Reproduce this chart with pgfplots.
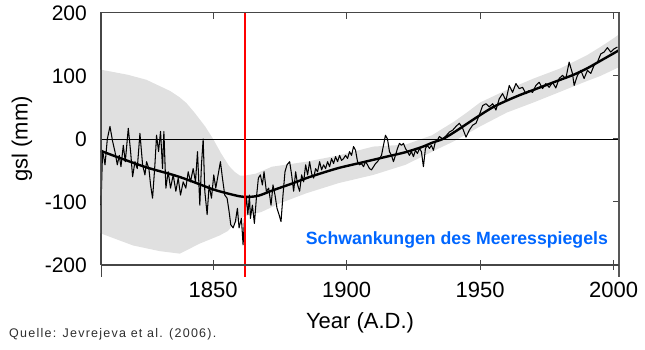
\documentclass[border=0pt]{standalone}
\usepackage{fontspec}
\setmainfont{Liberation Sans}
\usepackage{pgfplots}
\pgfplotsset{compat=1.18}
\usetikzlibrary{calc}
\definecolor{band}{RGB}{224,224,224}
\definecolor{axgray}{RGB}{70,70,70}
\definecolor{txtblue}{RGB}{0,102,255}
\definecolor{qgray}{RGB}{45,45,45}
\begin{document}
\begin{tikzpicture}
\begin{axis}[name=ax, scale only axis, width=518pt, height=252pt,
  xmin=1808, xmax=2002, ymin=-200, ymax=200, clip=false,
  axis line style={axgray, line width=1pt},
  xtick={1850,1900,1950,2000}, xtick pos=bottom,
  ytick={-200,-100,0,100,200}, ytick pos=left,
  tick align=center, major tick length=10pt,
  tick style={axgray, line width=1pt},
  major y tick style={draw=none},
  /pgf/number format/assume math mode=true,
  /pgf/number format/1000 sep={},
  xticklabel style={font=\fontsize{22}{24}\selectfont, anchor=north, inner sep=0pt, yshift=-12pt},
  yticklabel style={font=\fontsize{21}{24}\selectfont, anchor=east, inner sep=0pt, xshift=-9pt},
  xlabel={Year (A.D.)}, ylabel={gsl (mm)},
  every axis x label/.style={at={(rel axis cs:0.5,0)}, yshift=-58pt, anchor=center, font=\fontsize{22}{24}\selectfont},
  every axis y label/.style={at={(rel axis cs:0,0.5)}, xshift=-79pt, anchor=center, rotate=90, font=\fontsize{22}{24}\selectfont},
]
% uncertainty band
\addplot[fill=band, draw=none] coordinates {
(1808,110)(1818,102)(1825,94)(1830,84)(1834,76)(1837.5,66)(1840,57)(1843,42)(1847,20)(1850,0)(1853,-23)(1856,-43)(1858,-52)(1860,-58)(1862,-58)(1866,-55)(1872,-44)(1885,-36)(1897,-26)(1910,-12)(1922,-9)(1932,6)(1935,14)(1940,27)(1945,42)(1950,58)(1955,68)(1960,78)(1970,96)(1980,112)(1990,133)(1995,146)(2000,160)(2002,166)
(2002,114)(2000,110)(1995,100)(1990,92)(1980,75)(1970,58)(1960,42)(1950,20)(1945,8)(1940,-4)(1935,-14)(1922,-41)(1910,-57)(1897,-70)(1885,-86)(1875,-102)(1868,-116)(1862,-122)(1858,-134)(1855.5,-146)(1852.5,-153)(1845,-166)(1837.5,-182)(1830,-178)(1820,-169)(1808,-150)
} -- cycle;
% zero line
\addplot[black, line width=0.8pt] coordinates {(1808,0)(2002,0)};
% annual series
\addplot[black, line width=1.05pt, line join=round] coordinates {
(1808.0,-105)(1808.6,-18)(1809.5,-41)(1810.37,0)(1811.36,20)(1812.36,-4)(1813.23,-20)(1814.11,-41)(1814.85,-26)(1815.48,-44)
(1816.35,-10)(1817.1,-36)(1818.22,17)(1819.09,-20)(1819.84,-60)(1820.71,-36)(1821.58,-47)(1822.58,9)(1823.58,-41)(1824.45,-57)
(1825.07,-36)(1825.94,-47)(1826.57,-73)(1827.31,-94)(1828.19,-41)(1828.81,6)(1829.56,-20)(1830.3,12)(1831.05,-47)(1831.55,12)
(1832.3,-78)(1833.17,-52)(1834.04,-78)(1835.04,-57)(1836.04,-83)(1836.91,-62)(1837.78,-89)(1838.78,-68)(1839.77,-78)(1840.65,-52)
(1841.52,-68)(1842.52,-47)(1843.39,-68)(1844.14,-20)(1845.01,-105)(1845.63,-41)(1846.26,0)(1846.88,-83)(1847.75,-120)(1848.5,-73)
(1849.37,-94)(1850.24,-57)(1850.99,-78)(1851.86,-57)(1852.73,-36)(1853.48,-62)(1854.35,-89)(1855.23,-94)(1855.97,-115)(1856.6,-136)
(1857.47,-141)(1858.34,-131)(1859.09,-110)(1859.71,-141)(1860.58,-126)(1861.21,-168)(1861.83,-120)(1862.45,-91)(1863.0,-120)(1863.6,-89)
(1863.95,-126)(1864.7,-105)(1865.45,-134)(1866.19,-94)(1866.94,-62)(1867.69,-57)(1868.44,-73)(1869.06,-52)(1869.93,-83)(1870.8,-78)
(1871.68,-105)(1872.42,-73)(1873.17,-89)(1873.92,-110)(1874.67,-120)(1875.42,-131)(1876.16,-89)(1876.91,-52)(1877.66,-41)(1878.65,-36)
(1879.4,-57)(1880.15,-83)(1880.9,-52)(1881.65,-73)(1882.39,-83)(1883.14,-57)(1883.89,-68)(1884.64,-41)(1885.38,-57)(1886.13,-36)
(1886.88,-55)(1887.63,-62)(1888.37,-47)(1889.12,-52)(1889.87,-36)(1890.62,-49)(1891.36,-41)(1892.11,-47)(1892.86,-36)(1893.61,-44)
(1894.35,-31)(1895.1,-39)(1895.85,-28)(1896.6,-36)(1897.35,-26)(1898.09,-34)(1898.84,-31)(1899.59,-26)(1900.34,-31)(1901.08,-20)
(1901.83,-26)(1902.58,-12)(1903.33,-18)(1904.08,-36)(1904.82,-41)(1905.57,-39)(1906.32,-44)(1907.07,-36)(1907.81,-41)(1908.56,-47)
(1909.31,-49)(1910.06,-44)(1910.81,-39)(1911.55,-36)(1912.3,-31)(1913.05,-26)(1913.8,-10)(1914.54,6)(1915.29,0)(1916.04,-20)
(1916.79,-26)(1917.53,-36)(1918.28,-26)(1919.03,-15)(1919.78,-7)(1920.52,-10)(1921.27,-7)(1922.02,-15)(1922.77,-20)(1923.51,-26)
(1924.26,-20)(1925.01,-28)(1925.76,-18)(1926.51,-23)(1927.25,-15)(1928.0,-20)(1928.75,-44)(1929.5,-15)(1930.24,-10)(1931.0,-15)
(1931.74,-10)(1932.49,-18)(1933.23,-4)(1933.98,-2)(1934.73,4)(1935.98,0)(1937.22,5)(1938.47,11)(1939.71,14)(1940.96,20)
(1942.21,25)(1943.45,17)(1944.7,3)(1945.94,14)(1947.19,22)(1948.44,25)(1949.68,38)(1950.93,53)(1952.17,56)(1953.42,51)
(1954.67,56)(1955.91,46)(1957.16,64)(1958.4,72)(1959.65,61)(1960.9,85)(1962.14,74)(1963.39,88)(1964.64,80)(1965.88,82)
(1967.13,72)(1968.37,77)(1969.62,74)(1970.87,85)(1972.11,90)(1973.36,80)(1974.6,88)(1975.85,82)(1977.1,90)(1978.34,81)
(1979.59,96)(1980.83,101)(1982.08,96)(1983.33,122)(1984.57,104)(1985.2,85)(1986.44,101)(1987.69,109)(1988.93,96)(1990.18,109)
(1991.43,104)(1992.67,117)(1993.92,122)(1995.16,135)(1996.41,138)(1997.66,145)(1998.9,138)(2000.15,143)(2001.4,146)
};
% smoothed trend
\addplot[black, line width=2.4pt, smooth] coordinates {
(1808,-19)(1815,-30)(1825,-45)(1835,-57)(1840,-64)(1845,-72)(1850,-80)(1855,-86)(1860,-91)(1863,-92)(1867,-90)(1872,-82)
(1880,-70)(1885,-62)(1890,-55)(1897,-46)(1905,-38)(1910,-33)(1915,-28)(1922,-21)(1928,-13)(1932,-6)(1936,0)(1940,10)
(1945,24)(1950,38)(1955,51)(1960,61)(1965,70)(1970,78)(1975,86)(1980,94)(1985,102)(1990,112)(1995,124)(2000,136)(2002,141)
};
% red marker line
\addplot[red, line width=1.6pt] coordinates {(1862,-219)(1862,200)};
\node[text=txtblue, font=\bfseries\fontsize{17.7}{20}\selectfont] at (axis cs:1941.3,-160.5) {Schwankungen des Meeresspiegels};
\end{axis}
\begin{axis}[scale only axis, width=518pt, height=252pt,
  xmin=1808, xmax=2002, ymin=-200, ymax=200,
  axis line style={axgray, line width=1pt},
  xtick={1850,1900,1950,2000}, xtick pos=top,
  ytick={-100,0,100}, ytick pos=right,
  tick align=inside, major tick length=6pt,
  tick style={axgray, line width=1pt},
  xticklabels={}, yticklabels={},
]
\end{axis}
\draw[axgray, line width=1pt] (ax.south west) -- ++(0,-12pt);
\draw[axgray!90, line width=2pt] (ax.north east) -- ($(ax.south east)+(0,-12pt)$);
\draw[axgray, line width=1.5pt] (ax.south west) -- (ax.south east);
\node[anchor=base west, text=qgray, inner sep=0pt, font=\addfontfeatures{LetterSpace=10}\fontsize{12.5}{14}\selectfont] at ($(ax.south west)+(-92pt,-73pt)$) {Quelle: Jevrejeva et al. (2006).};
\path[use as bounding box] ($(ax.south west)+(-101pt,-85pt)$) rectangle ($(ax.north east)+(26pt,13pt)$);
\end{tikzpicture}
\end{document}
